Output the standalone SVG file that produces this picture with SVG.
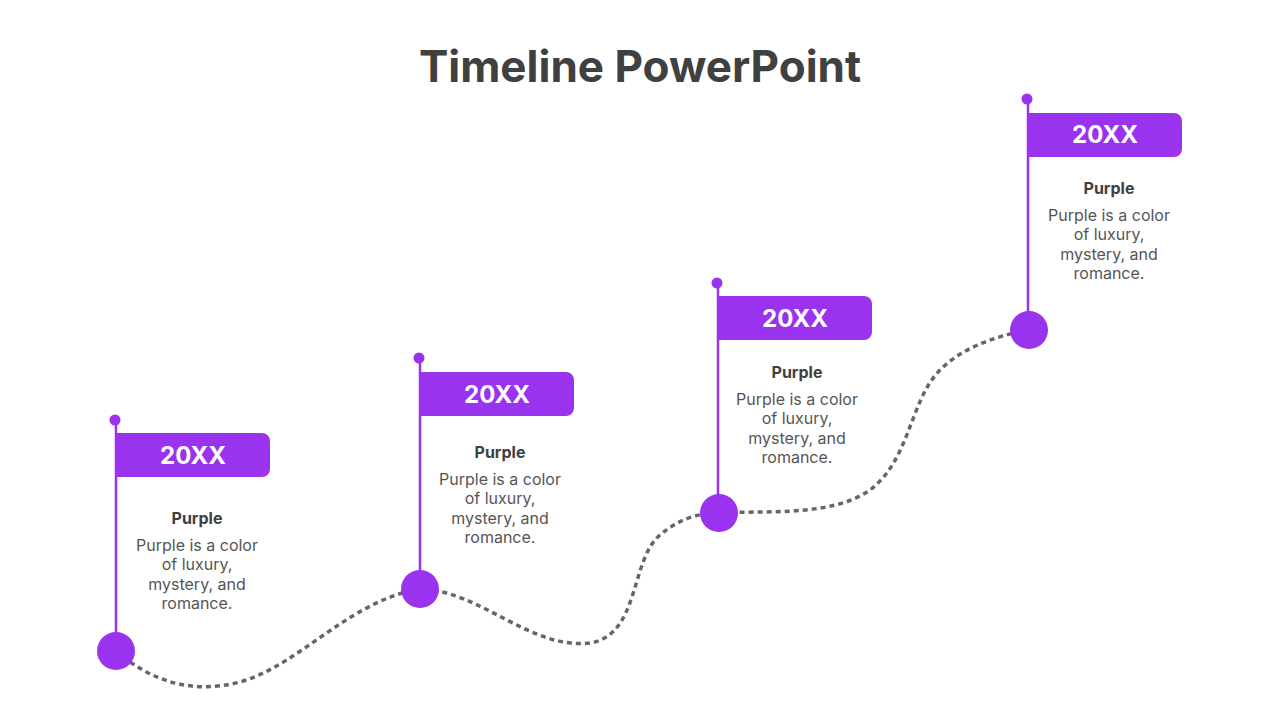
<svg xmlns="http://www.w3.org/2000/svg" width="1280" height="720" viewBox="0 0 1280 720">
<defs>
<style>
.pole{stroke:#9933EE;stroke-width:2.5}
.p{fill:#9933EE}
.yr{font-family:Inter,"Open Sans",sans-serif;font-weight:700;font-size:24px;fill:#fff;text-anchor:middle}
.h{font-family:Inter,"Open Sans",sans-serif;font-weight:700;font-size:16px;fill:#404040;text-anchor:middle}
.b{font-family:Inter,"Open Sans",sans-serif;font-size:16px;fill:#555;text-anchor:middle}
</style>
<path id="flag" d="M0 0H146a8 8 0 0 1 8 8V36a8 8 0 0 1-8 8H0Z"/>
</defs>
<rect width="1280" height="720" fill="#fff"/>
<text x="640" y="82" font-family="Inter,'Open Sans',sans-serif" font-weight="700" font-size="44" fill="#404040" text-anchor="middle">Timeline PowerPoint</text>
<g id="connectors">
<path d="M116 651C150 680 190 695 240 682C300 665 350 600 420 589C480 590 530 650 590 643C640 635 630 560 660 535C680 518 700 513 719 513C760 510 830 518 870 490C910 460 910 400 940 370C960 350 990 337 1029 330" fill="none" stroke="#666" stroke-width="3.5" stroke-dasharray="5 4"/>
</g>
<g id="n1">
<line class="pole" x1="116" y1="420" x2="116" y2="651"/><circle class="p" cx="115" cy="420" r="5.5"/>
<use href="#flag" x="116" y="433" class="p"/><text class="yr" x="193" y="464">20XX</text>
<circle class="p" cx="116" cy="651" r="19"/>
<text class="h" x="197" y="524">Purple</text>
<text class="b" x="197" y="551">Purple is a color</text><text class="b" x="197" y="570">of luxury,</text><text class="b" x="197" y="590">mystery, and</text><text class="b" x="197" y="609">romance.</text>
</g>
<g id="n2">
<line class="pole" x1="420" y1="358" x2="420" y2="589"/><circle class="p" cx="419" cy="358" r="5.5"/>
<use href="#flag" x="420" y="372" class="p"/><text class="yr" x="497" y="403">20XX</text>
<circle class="p" cx="420" cy="589" r="19"/>
<text class="h" x="500" y="458">Purple</text>
<text class="b" x="500" y="485">Purple is a color</text><text class="b" x="500" y="504">of luxury,</text><text class="b" x="500" y="524">mystery, and</text><text class="b" x="500" y="543">romance.</text>
</g>
<g id="n3">
<line class="pole" x1="718" y1="283" x2="718" y2="513"/><circle class="p" cx="717" cy="283" r="5.5"/>
<use href="#flag" x="718" y="296" class="p"/><text class="yr" x="795" y="327">20XX</text>
<circle class="p" cx="719" cy="513" r="19"/>
<text class="h" x="797" y="378">Purple</text>
<text class="b" x="797" y="405">Purple is a color</text><text class="b" x="797" y="424">of luxury,</text><text class="b" x="797" y="444">mystery, and</text><text class="b" x="797" y="463">romance.</text>
</g>
<g id="n4">
<line class="pole" x1="1028" y1="99" x2="1028" y2="330"/><circle class="p" cx="1027" cy="99" r="5.5"/>
<use href="#flag" x="1028" y="113" class="p"/><text class="yr" x="1105" y="143">20XX</text>
<circle class="p" cx="1029" cy="330" r="19"/>
<text class="h" x="1109" y="194">Purple</text>
<text class="b" x="1109" y="221">Purple is a color</text><text class="b" x="1109" y="240">of luxury,</text><text class="b" x="1109" y="260">mystery, and</text><text class="b" x="1109" y="279">romance.</text>
</g>
</svg>
